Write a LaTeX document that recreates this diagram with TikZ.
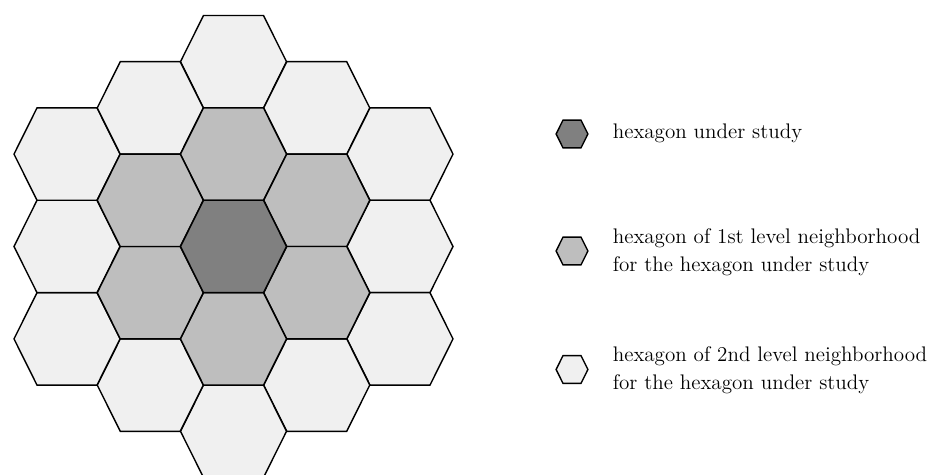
\documentclass[tikz,border=0pt]{standalone}
\usepackage{tikz}
\usetikzlibrary{positioning}

\definecolor{hexdark}{gray}{0.5}
\definecolor{hexmid}{gray}{0.745}
\definecolor{hexlight}{gray}{0.94}

\tikzset{
    pics/hexcell/.style={code={
        \draw[thick, fill=#1] (-53,0) -- (-30,-46.2) -- (30,-46.2) -- (53,0) -- (30,46.2) -- (-30,46.2) -- cycle;
    }},
    legendtext/.style={anchor=west, inner sep=0pt, align=left, font=\fontsize{12}{15.8}\selectfont}
}

\begin{document}
\begin{tikzpicture}[x=0.02cm, y=-0.02cm]
    \useasboundingbox (0,0) rectangle (936,475);

    % 2nd level neighborhood
    \foreach \cx/\cy in {233.5/61.7, 316.75/107.9, 400/154.1, 400/246.5, 400/338.9, 316.75/385.1,
                         233.5/431.3, 150.25/385.1, 67/338.9, 67/246.5, 67/154.1, 150.25/107.9}
        \pic at (\cx,\cy) {hexcell=hexlight};

    % 1st level neighborhood
    \foreach \cx/\cy in {233.5/154.1, 316.75/200.3, 316.75/292.7, 233.5/338.9, 150.25/292.7, 150.25/200.3}
        \pic at (\cx,\cy) {hexcell=hexmid};

    % Hexagon under study
    \pic at (233.5,246.5) {hexcell=hexdark};

    % Legend
    \pic[scale=0.3] at (572,134) {hexcell=hexdark};
    \pic[scale=0.3] at (572,251) {hexcell=hexmid};
    \pic[scale=0.3] at (572,369.5) {hexcell=hexlight};

    \node[legendtext] (lgstudy) at (612.5,133) {hexagon under study};
    \node[legendtext] (lgfirst) at (612.5,252) {hexagon of 1st level neighborhood\\for the hexagon under study};
    \node[legendtext] (lgsecond) at (612.5,370.5) {hexagon of 2nd level neighborhood\\for the hexagon under study};
\end{tikzpicture}
\end{document}
